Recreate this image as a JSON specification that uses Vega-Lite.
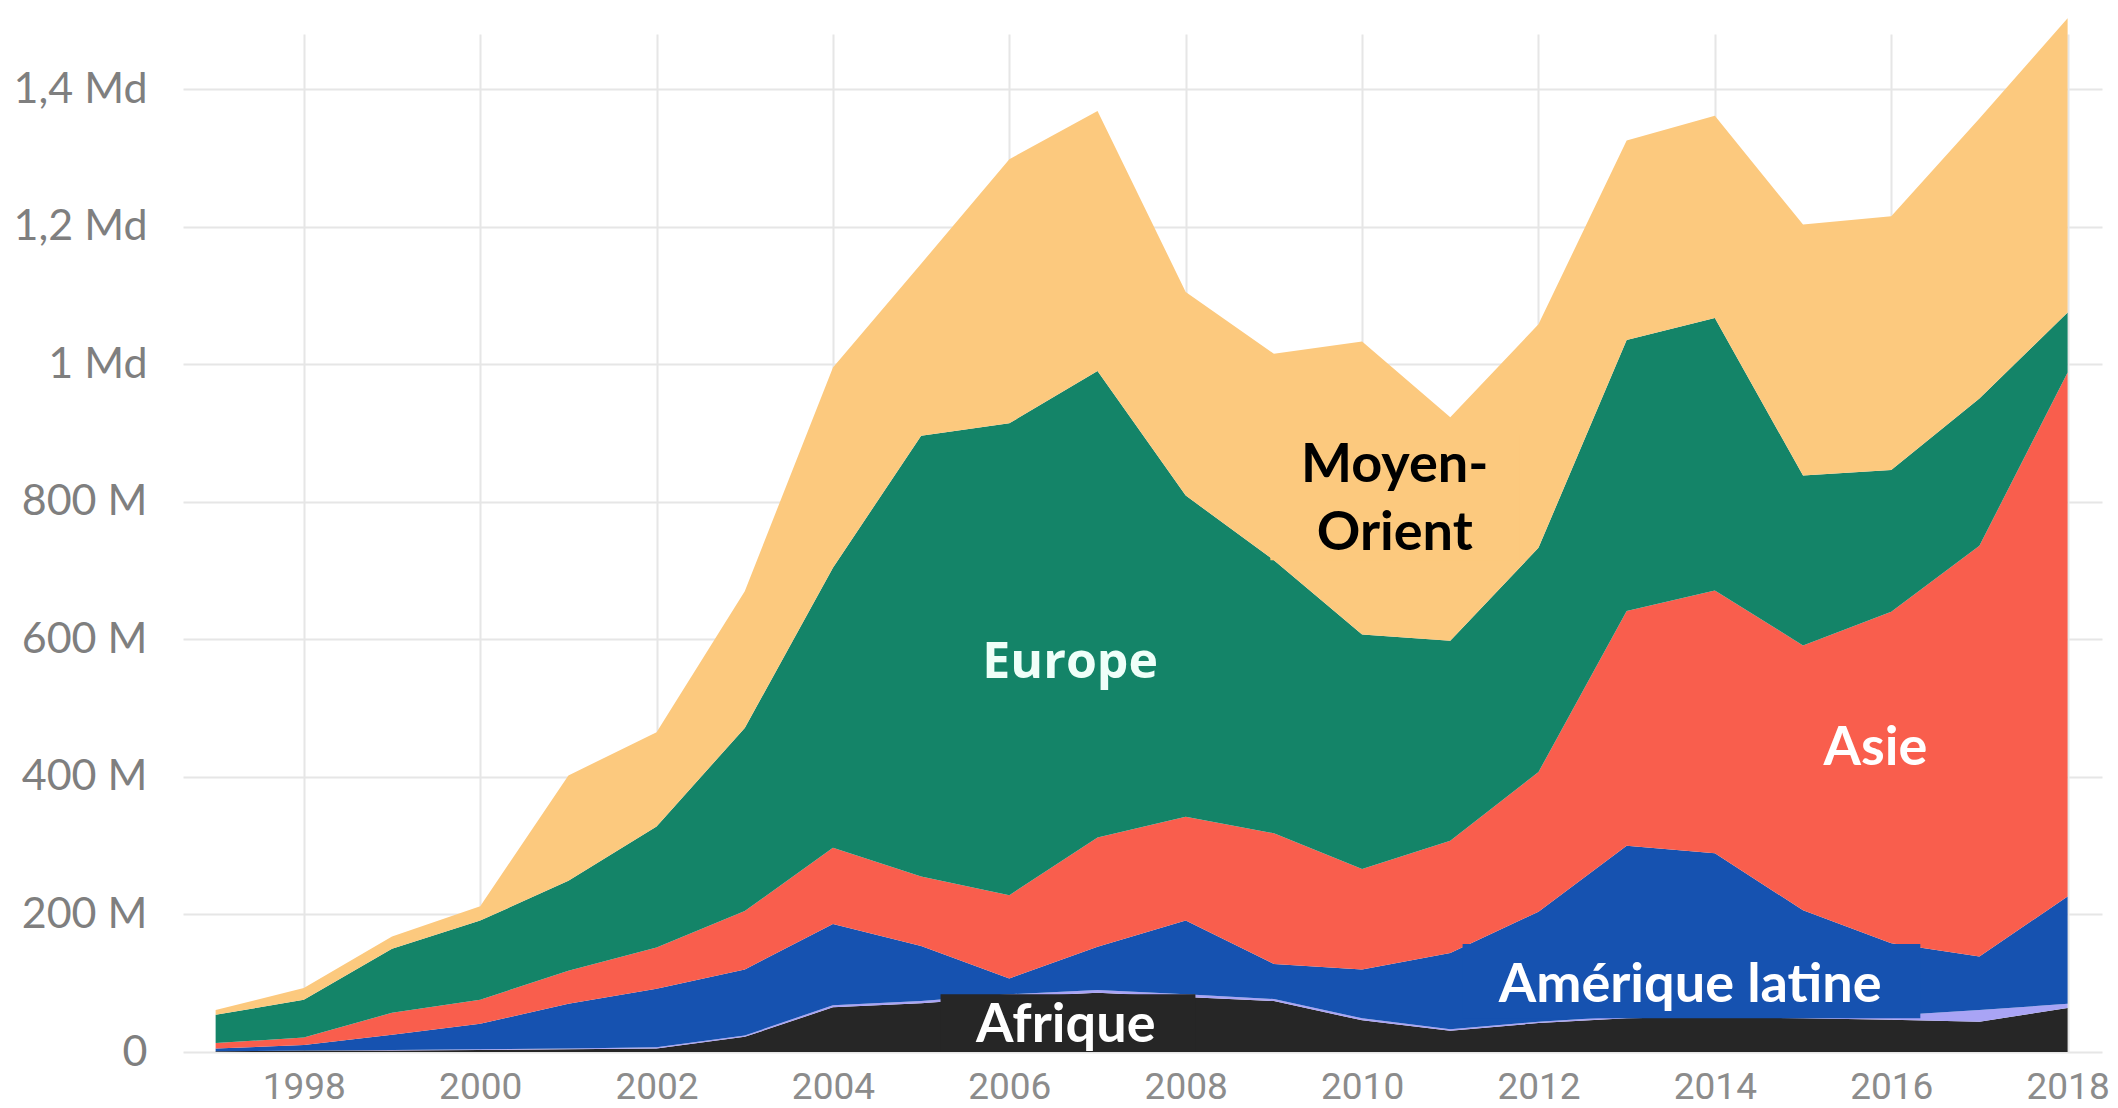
{
  "$schema": "https://vega.github.io/schema/vega-lite/v6.json",
  "width": 1919,
  "height": 1018,
  "autosize": {"type": "none"},
  "padding": {"left": 183, "top": 34, "right": 16, "bottom": 56},
  "background": "white",
  "config": {"view": {"stroke": null}},
  "datasets": {
    "series": [
      {"annee": 1997, "region": "Afrique", "valeur": 1}, {"annee": 1997, "region": "Amérique du Nord", "valeur": 0}, {"annee": 1997, "region": "Amérique latine", "valeur": 4}, {"annee": 1997, "region": "Asie", "valeur": 8}, {"annee": 1997, "region": "Europe", "valeur": 41}, {"annee": 1997, "region": "Moyen-Orient", "valeur": 7},
      {"annee": 1998, "region": "Afrique", "valeur": 2}, {"annee": 1998, "region": "Amérique du Nord", "valeur": 0}, {"annee": 1998, "region": "Amérique latine", "valeur": 8}, {"annee": 1998, "region": "Asie", "valeur": 11}, {"annee": 1998, "region": "Europe", "valeur": 55}, {"annee": 1998, "region": "Moyen-Orient", "valeur": 17},
      {"annee": 1999, "region": "Afrique", "valeur": 2}, {"annee": 1999, "region": "Amérique du Nord", "valeur": 1}, {"annee": 1999, "region": "Amérique latine", "valeur": 22}, {"annee": 1999, "region": "Asie", "valeur": 32}, {"annee": 1999, "region": "Europe", "valeur": 93}, {"annee": 1999, "region": "Moyen-Orient", "valeur": 18},
      {"annee": 2000, "region": "Afrique", "valeur": 3}, {"annee": 2000, "region": "Amérique du Nord", "valeur": 1}, {"annee": 2000, "region": "Amérique latine", "valeur": 37}, {"annee": 2000, "region": "Asie", "valeur": 35}, {"annee": 2000, "region": "Europe", "valeur": 115}, {"annee": 2000, "region": "Moyen-Orient", "valeur": 21},
      {"annee": 2001, "region": "Afrique", "valeur": 4}, {"annee": 2001, "region": "Amérique du Nord", "valeur": 1}, {"annee": 2001, "region": "Amérique latine", "valeur": 65}, {"annee": 2001, "region": "Asie", "valeur": 48}, {"annee": 2001, "region": "Europe", "valeur": 131}, {"annee": 2001, "region": "Moyen-Orient", "valeur": 153},
      {"annee": 2002, "region": "Afrique", "valeur": 5}, {"annee": 2002, "region": "Amérique du Nord", "valeur": 2}, {"annee": 2002, "region": "Amérique latine", "valeur": 85}, {"annee": 2002, "region": "Asie", "valeur": 60}, {"annee": 2002, "region": "Europe", "valeur": 176}, {"annee": 2002, "region": "Moyen-Orient", "valeur": 137},
      {"annee": 2003, "region": "Afrique", "valeur": 22}, {"annee": 2003, "region": "Amérique du Nord", "valeur": 2}, {"annee": 2003, "region": "Amérique latine", "valeur": 96}, {"annee": 2003, "region": "Asie", "valeur": 85}, {"annee": 2003, "region": "Europe", "valeur": 266}, {"annee": 2003, "region": "Moyen-Orient", "valeur": 199},
      {"annee": 2004, "region": "Afrique", "valeur": 65}, {"annee": 2004, "region": "Amérique du Nord", "valeur": 3}, {"annee": 2004, "region": "Amérique latine", "valeur": 118}, {"annee": 2004, "region": "Asie", "valeur": 111}, {"annee": 2004, "region": "Europe", "valeur": 407}, {"annee": 2004, "region": "Moyen-Orient", "valeur": 291},
      {"annee": 2005, "region": "Afrique", "valeur": 71}, {"annee": 2005, "region": "Amérique du Nord", "valeur": 3}, {"annee": 2005, "region": "Amérique latine", "valeur": 80}, {"annee": 2005, "region": "Asie", "valeur": 101}, {"annee": 2005, "region": "Europe", "valeur": 641}, {"annee": 2005, "region": "Moyen-Orient", "valeur": 250},
      {"annee": 2006, "region": "Afrique", "valeur": 80}, {"annee": 2006, "region": "Amérique du Nord", "valeur": 4}, {"annee": 2006, "region": "Amérique latine", "valeur": 23}, {"annee": 2006, "region": "Asie", "valeur": 121}, {"annee": 2006, "region": "Europe", "valeur": 686}, {"annee": 2006, "region": "Moyen-Orient", "valeur": 384},
      {"annee": 2007, "region": "Afrique", "valeur": 86}, {"annee": 2007, "region": "Amérique du Nord", "valeur": 4}, {"annee": 2007, "region": "Amérique latine", "valeur": 63}, {"annee": 2007, "region": "Asie", "valeur": 159}, {"annee": 2007, "region": "Europe", "valeur": 678}, {"annee": 2007, "region": "Moyen-Orient", "valeur": 378},
      {"annee": 2008, "region": "Afrique", "valeur": 80}, {"annee": 2008, "region": "Amérique du Nord", "valeur": 4}, {"annee": 2008, "region": "Amérique latine", "valeur": 107}, {"annee": 2008, "region": "Asie", "valeur": 151}, {"annee": 2008, "region": "Europe", "valeur": 467}, {"annee": 2008, "region": "Moyen-Orient", "valeur": 296},
      {"annee": 2009, "region": "Afrique", "valeur": 74}, {"annee": 2009, "region": "Amérique du Nord", "valeur": 3}, {"annee": 2009, "region": "Amérique latine", "valeur": 51}, {"annee": 2009, "region": "Asie", "valeur": 190}, {"annee": 2009, "region": "Europe", "valeur": 397}, {"annee": 2009, "region": "Moyen-Orient", "valeur": 300},
      {"annee": 2010, "region": "Afrique", "valeur": 46}, {"annee": 2010, "region": "Amérique du Nord", "valeur": 3}, {"annee": 2010, "region": "Amérique latine", "valeur": 71}, {"annee": 2010, "region": "Asie", "valeur": 146}, {"annee": 2010, "region": "Europe", "valeur": 341}, {"annee": 2010, "region": "Moyen-Orient", "valeur": 426},
      {"annee": 2011, "region": "Afrique", "valeur": 31}, {"annee": 2011, "region": "Amérique du Nord", "valeur": 2}, {"annee": 2011, "region": "Amérique latine", "valeur": 111}, {"annee": 2011, "region": "Asie", "valeur": 163}, {"annee": 2011, "region": "Europe", "valeur": 291}, {"annee": 2011, "region": "Moyen-Orient", "valeur": 325},
      {"annee": 2012, "region": "Afrique", "valeur": 42}, {"annee": 2012, "region": "Amérique du Nord", "valeur": 2}, {"annee": 2012, "region": "Amérique latine", "valeur": 160}, {"annee": 2012, "region": "Asie", "valeur": 203}, {"annee": 2012, "region": "Europe", "valeur": 326}, {"annee": 2012, "region": "Moyen-Orient", "valeur": 325},
      {"annee": 2013, "region": "Afrique", "valeur": 49}, {"annee": 2013, "region": "Amérique du Nord", "valeur": 3}, {"annee": 2013, "region": "Amérique latine", "valeur": 248}, {"annee": 2013, "region": "Asie", "valeur": 341}, {"annee": 2013, "region": "Europe", "valeur": 394}, {"annee": 2013, "region": "Moyen-Orient", "valeur": 290},
      {"annee": 2014, "region": "Afrique", "valeur": 51}, {"annee": 2014, "region": "Amérique du Nord", "valeur": 3}, {"annee": 2014, "region": "Amérique latine", "valeur": 235}, {"annee": 2014, "region": "Asie", "valeur": 382}, {"annee": 2014, "region": "Europe", "valeur": 396}, {"annee": 2014, "region": "Moyen-Orient", "valeur": 294},
      {"annee": 2015, "region": "Afrique", "valeur": 49}, {"annee": 2015, "region": "Amérique du Nord", "valeur": 3}, {"annee": 2015, "region": "Amérique latine", "valeur": 154}, {"annee": 2015, "region": "Asie", "valeur": 385}, {"annee": 2015, "region": "Europe", "valeur": 247}, {"annee": 2015, "region": "Moyen-Orient", "valeur": 365},
      {"annee": 2016, "region": "Afrique", "valeur": 47}, {"annee": 2016, "region": "Amérique du Nord", "valeur": 6}, {"annee": 2016, "region": "Amérique latine", "valeur": 105}, {"annee": 2016, "region": "Asie", "valeur": 482}, {"annee": 2016, "region": "Europe", "valeur": 206}, {"annee": 2016, "region": "Moyen-Orient", "valeur": 369},
      {"annee": 2017, "region": "Afrique", "valeur": 44}, {"annee": 2017, "region": "Amérique du Nord", "valeur": 17}, {"annee": 2017, "region": "Amérique latine", "valeur": 78}, {"annee": 2017, "region": "Asie", "valeur": 597}, {"annee": 2017, "region": "Europe", "valeur": 214}, {"annee": 2017, "region": "Moyen-Orient", "valeur": 407},
      {"annee": 2018, "region": "Afrique", "valeur": 64}, {"annee": 2018, "region": "Amérique du Nord", "valeur": 6}, {"annee": 2018, "region": "Amérique latine", "valeur": 156}, {"annee": 2018, "region": "Asie", "valeur": 762}, {"annee": 2018, "region": "Europe", "valeur": 87}, {"annee": 2018, "region": "Moyen-Orient", "valeur": 428}
    ],
    "cadres": [
      {"region": "Afrique", "debut": 2005.22, "fin": 2008.11, "bas": 0, "haut": 84},
      {"region": "Amérique latine", "debut": 2011.14, "fin": 2016.33, "bas": 49, "haut": 157},
      {"region": "Moyen-Orient", "debut": 2008.96, "fin": 2011.79, "bas": 715, "haut": 897}
    ],
    "etiquettes_noires": [
      {"texte": "Moyen-", "annee": 2010.37, "valeur": 828},
      {"texte": "Orient", "annee": 2010.37, "valeur": 730}
    ],
    "etiquettes_blanches": [
      {"texte": "Asie", "annee": 2015.82, "valeur": 417},
      {"texte": "Afrique", "annee": 2006.64, "valeur": 14.5},
      {"texte": "Amérique latine", "annee": 2013.72, "valeur": 73}
    ],
    "etiquette_europe": [
      {"texte": "Europe", "annee": 2006.69, "valeur": 544}
    ]
  },
  "layer": [
    {
      "data": {"name": "series"},
      "mark": {"type": "area", "interpolate": "linear"},
      "encoding": {
        "x": {
          "field": "annee", "type": "quantitative",
          "scale": {"domain": [1996.63, 2018.39], "nice": false, "zero": false},
          "axis": {
            "title": null, "values": [1998, 2000, 2002, 2004, 2006, 2008, 2010, 2012, 2014, 2016, 2018],
            "format": "d", "grid": true, "gridColor": "#e6e6e6", "gridWidth": 2,
            "domain": false, "ticks": false,
            "labelFont": "Roboto", "labelFontSize": 37, "labelColor": "#8c8c8c",
            "labelPadding": 46, "labelBaseline": "alphabetic", "labelFlush": false, "labelOverlap": false
          }
        },
        "y": {
          "field": "valeur", "type": "quantitative", "stack": "zero",
          "scale": {"domain": [0, 1480], "nice": false},
          "axis": {
            "title": null, "values": [0, 200, 400, 600, 800, 1000, 1200, 1400],
            "grid": true, "gridColor": "#e6e6e6", "gridWidth": 2, "domain": false, "ticks": false,
            "labelFont": "Lato", "labelFontSize": 43, "labelColor": "#7f7f7f", "labelPadding": 36,
            "labelBaseline": "middle", "labelOverlap": false,
            "labelExpr": "datum.value >= 1000 ? replace(format(datum.value / 1000, '.1~f'), '.', ',') + ' Md' : (datum.value == 0 ? '0' : datum.value + ' M')"
          }
        },
        "color": {
          "field": "region", "type": "nominal", "legend": null,
          "scale": {
            "domain": ["Afrique", "Amérique du Nord", "Amérique latine", "Asie", "Europe", "Moyen-Orient"],
            "range": ["#262626", "#a9a4f5", "#1652b0", "#f95e4d", "#148468", "#fcc97e"]
          }
        },
        "order": {"field": "region", "sort": "ascending"}
      }
    },
    {
      "data": {"name": "cadres"},
      "mark": {"type": "rect"},
      "encoding": {
        "x": {"field": "debut", "type": "quantitative", "axis": {"title": null}},
        "x2": {"field": "fin"},
        "y": {"field": "bas", "type": "quantitative", "axis": {"title": null}},
        "y2": {"field": "haut"},
        "color": {"field": "region", "type": "nominal", "legend": null}
      }
    },
    {
      "mark": {"type": "rule", "color": "#2b2b2b", "strokeWidth": 3},
      "encoding": {
        "y": {"datum": 0, "type": "quantitative", "axis": {"title": null}}
      }
    },
    {
      "data": {"name": "etiquettes_noires"},
      "mark": {"type": "text", "font": "Lato", "fontWeight": "bold", "fontSize": 54, "color": "#000000", "align": "center", "baseline": "alphabetic"},
      "encoding": {
        "x": {"field": "annee", "type": "quantitative", "axis": {"title": null}},
        "y": {"field": "valeur", "type": "quantitative", "axis": {"title": null}},
        "text": {"field": "texte"}
      }
    },
    {
      "data": {"name": "etiquettes_blanches"},
      "mark": {"type": "text", "font": "Lato", "fontWeight": "bold", "fontSize": 54, "color": "#ffffff", "align": "center", "baseline": "alphabetic"},
      "encoding": {
        "x": {"field": "annee", "type": "quantitative", "axis": {"title": null}},
        "y": {"field": "valeur", "type": "quantitative", "axis": {"title": null}},
        "text": {"field": "texte"}
      }
    },
    {
      "data": {"name": "etiquette_europe"},
      "mark": {"type": "text", "font": "Open Sans", "fontWeight": "bold", "fontSize": 50, "color": "#effff9", "align": "center", "baseline": "alphabetic"},
      "encoding": {
        "x": {"field": "annee", "type": "quantitative", "axis": {"title": null}},
        "y": {"field": "valeur", "type": "quantitative", "axis": {"title": null}},
        "text": {"field": "texte"}
      }
    }
  ]
}
